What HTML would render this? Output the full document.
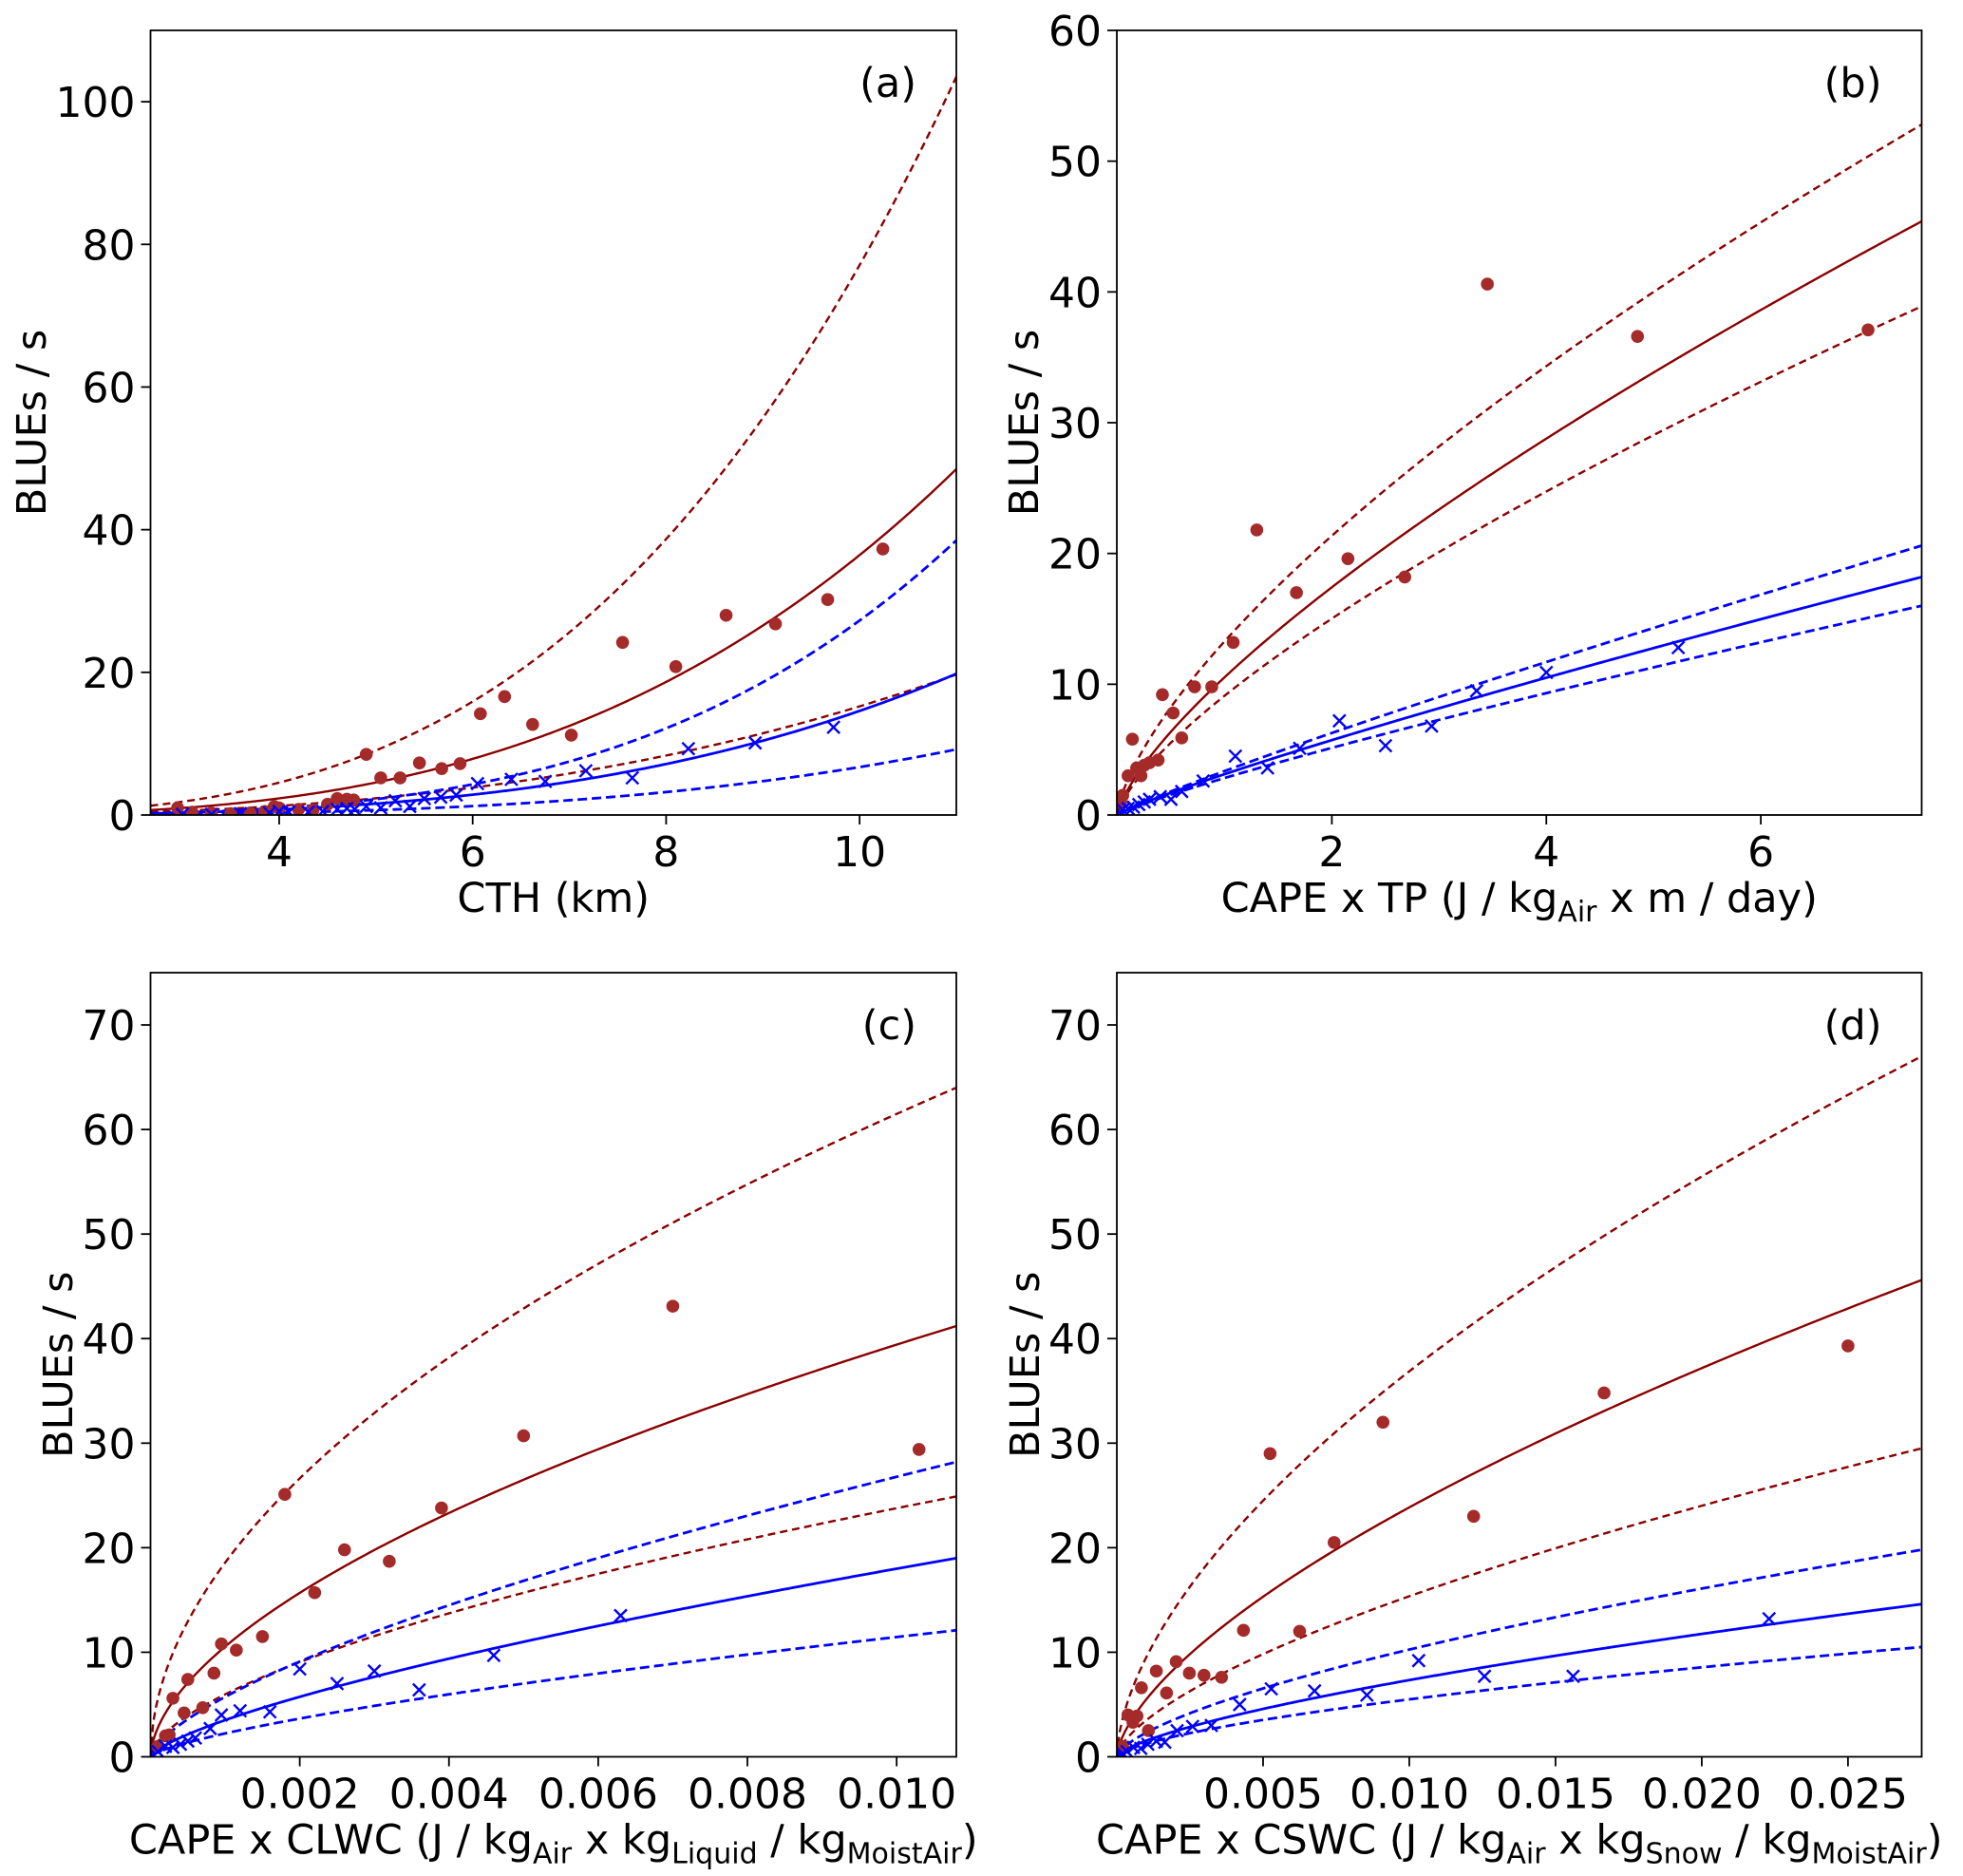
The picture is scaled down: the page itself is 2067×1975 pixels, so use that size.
<!DOCTYPE html>
<html><head><meta charset="utf-8">
<style>
html,body{margin:0;padding:0;background:#fff;}
svg{display:block;font-family:"DejaVu Sans","Liberation Sans",sans-serif;}
</style></head>
<body>
<svg id="fig" width="2067" height="1975" viewBox="0 0 2067 1975" xmlns="http://www.w3.org/2000/svg"></svg>
<script>
// ---------- Panel (a) data ----------
const aRedX = [2.95,3.1,3.3,3.5,3.7,3.85,3.95,4.0,4.2,4.35,4.5,4.6,4.7,4.77,4.9,5.05,5.25,5.45,5.68,5.87,6.08,6.33,6.62,7.02,7.55,8.1,8.62,9.13,9.67,10.24];
const aRedY = [1,0.4,0.3,0.2,0.3,0.5,1.2,1,0.8,0.7,1.5,2.3,2.2,2.1,8.5,5.2,5.2,7.3,6.5,7.2,14.2,16.6,12.7,11.2,24.2,20.8,28,26.8,30.2,37.3];
const aBlueX = [3.0,3.3,3.6,3.9,4.0,4.1,4.3,4.45,4.6,4.7,4.78,4.9,5.05,5.2,5.35,5.5,5.67,5.83,6.05,6.4,6.75,7.17,7.65,8.23,8.92,9.73];
const aBlueY = [0.1,0.1,0.2,0.3,0.5,0.4,0.4,0.5,0.8,0.9,0.8,1.2,1,2,1.2,2.3,2.5,2.8,4.4,5,4.7,6.2,5.2,9.3,10.1,12.3];
const aCurveEnd = [103.5,48.5,19.7,38.5,19.8,9.2];
const aCurveExp = [3.09,3.0,2.7,3.62,3.2,3.3];
const aXTicks = [4,6,8,10];
const aYTicks = [0,20,40,60,80,100];

// ---------- Panel (b) data ----------
const bRedX = [0.03,0.05,0.1,0.14,0.18,0.22,0.25,0.3,0.38,0.42,0.52,0.6,0.72,0.88,1.08,1.3,1.67,2.15,2.68,3.45,4.85,7.0];
const bRedY = [1.0,1.5,3.0,5.8,3.6,3.0,3.8,4.0,4.2,9.2,7.8,5.9,9.8,9.8,13.2,21.8,17.0,19.6,18.2,40.6,36.6,37.1];
const bBlueX = [0.02,0.05,0.1,0.15,0.2,0.25,0.3,0.4,0.5,0.6,0.8,1.1,1.4,1.7,2.07,2.5,2.93,3.35,4.0,5.23];
const bBlueY = [0.2,0.4,0.5,0.6,0.8,1.0,1.2,1.4,1.2,1.8,2.6,4.5,3.6,5.1,7.2,5.3,6.8,9.5,10.9,12.8];
const bCurveEnd = [52.8,45.4,38.9,20.6,18.2,16.0];
const bCurveExp = [0.685,0.725,0.72,0.9,0.875,0.86];
const bXTicks = [2,4,6];
const bYTicks = [0,10,20,30,40,50,60];

// ---------- Panel (c) data ----------
const cRedX = [0.0001,0.0002,0.00025,0.0003,0.00045,0.0005,0.0007,0.00085,0.00095,0.00115,0.0015,0.0018,0.0022,0.0026,0.0032,0.0039,0.005,0.007,0.0103];
const cRedY = [1,2,2.1,5.6,4.2,7.4,4.7,8,10.8,10.2,11.5,25.1,15.7,19.8,18.7,23.8,30.7,43.1,29.4];
const cBlueX = [0.0001,0.0002,0.0003,0.0004,0.0005,0.0006,0.0008,0.00095,0.0012,0.0016,0.002,0.0025,0.003,0.0036,0.0046,0.0063];
const cBlueY = [0.5,1,0.9,1.2,1.5,1.8,2.7,4,4.4,4.3,8.4,7,8.2,6.4,9.7,13.5];
const cCurveEnd = [64,41.2,24.9,28.2,19,12.1];
const cCurveExp = [0.52,0.573,0.6,0.67,0.71,0.71];
const cXTicks = [0.002,0.004,0.006,0.008,0.010];
const cYTicks = [0,10,20,30,40,50,60,70];

// ---------- Panel (d) data ----------
const dRedX = [0.0002,0.00038,0.00055,0.00069,0.00084,0.00108,0.00135,0.0017,0.00203,0.00248,0.00298,0.00358,0.00433,0.00524,0.00625,0.00743,0.0091,0.0122,0.01666,0.025];
const dRedY = [1,4,3.3,3.9,6.6,2.5,8.2,6.1,9.1,8,7.8,7.6,12.1,29.0,12.0,20.5,32,23,34.8,39.3];
const dBlueX = [0.0002,0.00035,0.00057,0.00082,0.00106,0.00135,0.00164,0.00206,0.00259,0.00323,0.0042,0.00528,0.00676,0.00855,0.01032,0.01257,0.0156,0.0223];
const dBlueY = [0.3,0.5,0.9,0.8,1.2,1.5,1.4,2.5,2.9,3,5,6.5,6.3,5.9,9.2,7.7,7.7,13.2];
const dCurveEnd = [67,45.6,29.5,19.8,14.6,10.5];
const dCurveExp = [0.59,0.64,0.645,0.65,0.68,0.64];
const dXTicks = [0.005,0.010,0.015,0.020,0.025];
const dYTicks = [0,10,20,30,40,50,60,70];

const NS = "http://www.w3.org/2000/svg";
const svg = document.getElementById('fig');
const RED_DOT = "#a52a2a", RED_LINE = "#8b0000", BLUE = "#0000ff";
const curveColors = [RED_LINE,RED_LINE,RED_LINE,BLUE,BLUE,BLUE];
const curveDash = [true,false,true,true,false,true];

function mk(tag, attrs, parent){
  const e = document.createElementNS(NS, tag);
  for (const k in attrs) e.setAttribute(k, attrs[k]);
  (parent||svg).appendChild(e);
  return e;
}

function panel(o){
  const g = mk('g', {});
  
  
  const sx = v => o.L + (v - o.xmin) / (o.xmax - o.xmin) * (o.R - o.L);
  const sy = v => o.B - (v - o.ymin) / (o.ymax - o.ymin) * (o.B - o.T);
  const clipId = 'clip-' + o.id;
  const cp = mk('clipPath', {id: clipId}, g);
  mk('rect', {x:o.L, y:o.T, width:o.R-o.L, height:o.B-o.T}, cp);
  const plot = mk('g', {'clip-path':'url(#'+clipId+')'}, g);
  
  
  for (let i = 0; i < o.curveEnd.length; i++){
    let d = '';
    const N = 300;
    const x0 = Math.max(o.xmin, 1e-9);
    for (let k = 0; k <= N; k++){
      const x = x0 + (o.xmax - x0) * k / N;
      const y = o.curveEnd[i] * Math.pow(x / o.xmax, o.curveExp[i]);
      d += (k ? 'L' : 'M') + sx(x).toFixed(2) + ',' + sy(y).toFixed(2);
    }
    const p = mk('path', {d:d, fill:'none', stroke:curveColors[i], 'stroke-width': curveColors[i]===BLUE?2.8:2.4,
      'stroke-dasharray': curveDash[i] ? (curveColors[i]===BLUE?'10,5':'8,5') : 'none'}, plot);
    
    
  }
  for (let i = 0; i < o.redX.length; i++){
    const c = mk('circle', {cx:sx(o.redX[i]), cy:sy(o.redY[i]), r:6.8, fill:RED_DOT}, plot);
    
    
  }
  for (let i = 0; i < o.blueX.length; i++){
    const x = sx(o.blueX[i]), y = sy(o.blueY[i]), s = 6.5;
    const p = mk('path', {d:`M${x-s},${y-s}L${x+s},${y+s}M${x-s},${y+s}L${x+s},${y-s}`, stroke:BLUE, 'stroke-width':2.4, fill:'none'}, plot);
    
    
  }
  const fr = mk('rect', {x:o.L, y:o.T, width:o.R-o.L, height:o.B-o.T, fill:'none', stroke:'#000', 'stroke-width':1.8}, g);
  
  
  o.xTicks.forEach(t => {
    const x = sx(t);
    const tl = mk('line', {x1:x, x2:x, y1:o.B, y2:o.B+10, stroke:'#000', 'stroke-width':1.8}, g);
    
    
    const tx = mk('text', {x:x, y:o.B+54, 'font-size':44, 'text-anchor':'middle'}, g);
    tx.textContent = o.xFmt(t);
    
    
  });
  o.yTicks.forEach(t => {
    const y = sy(t);
    const tl = mk('line', {x1:o.L-10, x2:o.L, y1:y, y2:y, stroke:'#000', 'stroke-width':1.8}, g);
    
    
    const tx = mk('text', {x:o.L-16, y:y+16, 'font-size':44, 'text-anchor':'end'}, g);
    tx.textContent = String(t);
    
    
  });
  const yl = mk('text', {x:0, y:0, 'font-size':43, 'text-anchor':'middle', transform:`translate(${o.ylx},${(o.T+o.B)/2}) rotate(-90)`}, g);
  yl.textContent = 'BLUEs / s';
  
  
  const xl = mk('text', {x:(o.L+o.R)/2, y:o.B+102, 'font-size':43, 'text-anchor':'middle'}, g);
  xl.innerHTML = o.xlabel;
  
  
  const pl = mk('text', {x:o.R-42, y:o.T+70, 'font-size':43, 'text-anchor':'end'}, g);
  pl.textContent = '(' + o.id + ')';
  
  
}

const sub = s => `<tspan font-size="30" dy="10">${s}</tspan><tspan dy="-10"> </tspan>`;
const fmtInt = t => String(t);
const fmt3 = t => t.toFixed(3);

panel({id:'a', L:158.5, R:1007, T:32, B:858, xmin:2.67, xmax:11.0, ymin:0, ymax:110,
  redX:aRedX, redY:aRedY, blueX:aBlueX, blueY:aBlueY, curveEnd:aCurveEnd, curveExp:aCurveExp,
  xTicks:aXTicks, yTicks:aYTicks, xFmt:fmtInt, ylx:48, xlabel:'CTH (km)'});
panel({id:'b', L:1176, R:2023.5, T:32, B:858, xmin:-0.005, xmax:7.5, ymin:0, ymax:60,
  redX:bRedX, redY:bRedY, blueX:bBlueX, blueY:bBlueY, curveEnd:bCurveEnd, curveExp:bCurveExp,
  xTicks:bXTicks, yTicks:bYTicks, xFmt:fmtInt, ylx:1093,
  xlabel:'CAPE x TP (J / kg' + sub('Air') + 'x m / day)'});
panel({id:'c', L:158.5, R:1007, T:1024, B:1849.5, xmin:0, xmax:0.0108, ymin:0, ymax:75,
  redX:cRedX, redY:cRedY, blueX:cBlueX, blueY:cBlueY, curveEnd:cCurveEnd, curveExp:cCurveExp,
  xTicks:cXTicks, yTicks:cYTicks, xFmt:fmt3, ylx:76,
  xlabel:'CAPE x CLWC (J / kg' + sub('Air') + 'x kg' + sub('Liquid') + '/ kg<tspan font-size="30" dy="10">MoistAir</tspan><tspan dy="-10">)</tspan>'});
panel({id:'d', L:1176, R:2023.5, T:1024, B:1849.5, xmin:0, xmax:0.02752, ymin:0, ymax:75,
  redX:dRedX, redY:dRedY, blueX:dBlueX, blueY:dBlueY, curveEnd:dCurveEnd, curveExp:dCurveExp,
  xTicks:dXTicks, yTicks:dYTicks, xFmt:fmt3, ylx:1094,
  xlabel:'CAPE x CSWC (J / kg' + sub('Air') + 'x kg' + sub('Snow') + '/ kg<tspan font-size="30" dy="10">MoistAir</tspan><tspan dy="-10">)</tspan>'});
</script>
</body></html>
